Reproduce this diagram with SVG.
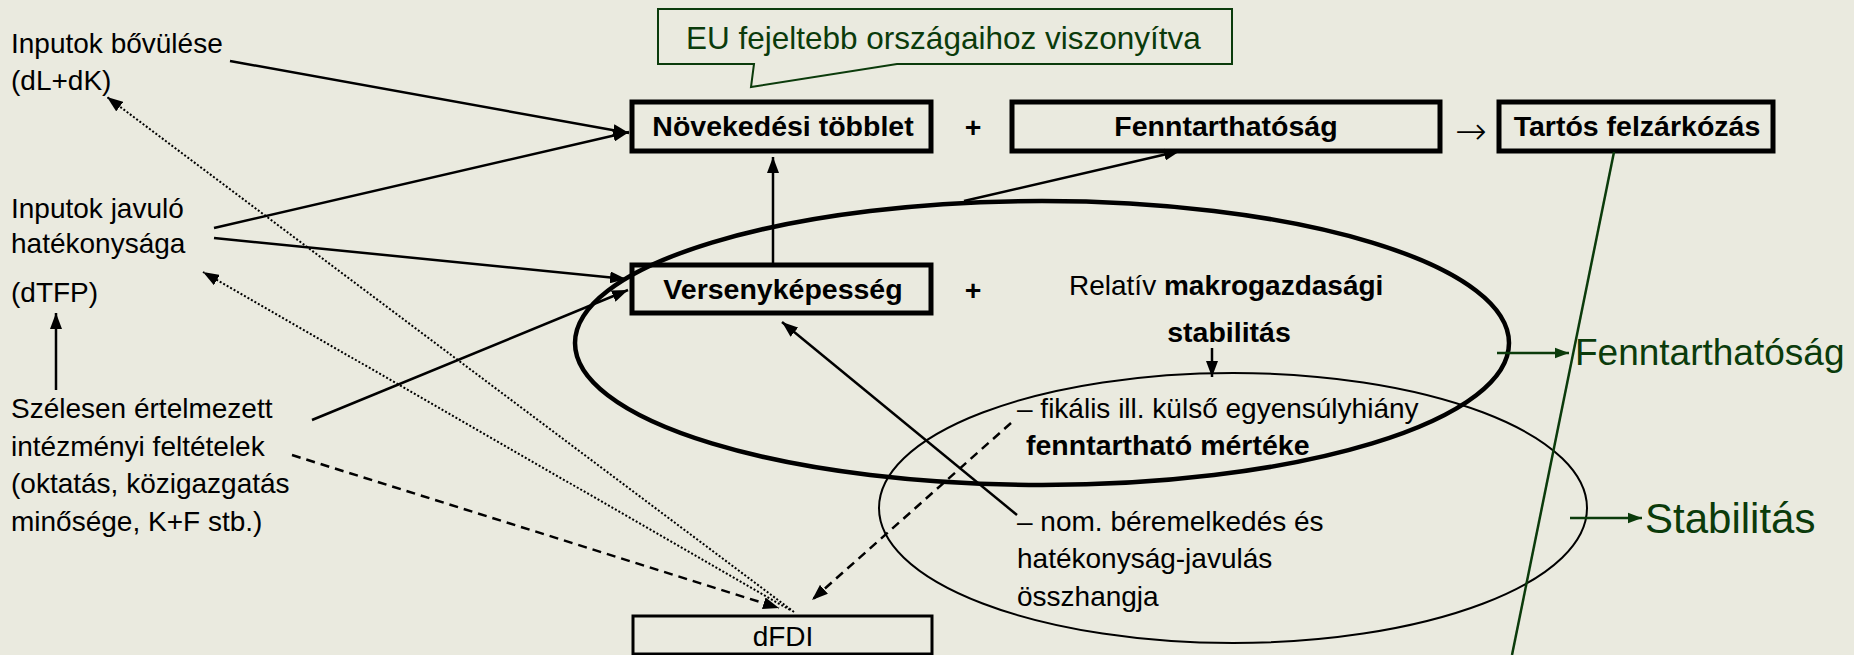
<svg xmlns="http://www.w3.org/2000/svg" width="1854" height="655" viewBox="0 0 1854 655">
<defs>
<style>
text{font-family:"Liberation Sans",Arial,sans-serif;fill:#000}
.t{font-size:28px}
.b{font-size:28.5px;font-weight:bold}
.g{fill:#0b3b0b}
.box{fill:none;stroke:#000;stroke-width:5}
.ln{fill:none;stroke:#000;stroke-width:2.5}
.dot{fill:none;stroke:#000;stroke-width:2;stroke-dasharray:2 2}
.dash{fill:none;stroke:#000;stroke-width:2.5;stroke-dasharray:9 6}
.gl{fill:none;stroke:#0b3b0b;stroke-width:2.5}
</style>
<marker id="ah" viewBox="0 0 16 12" refX="16" refY="6" markerWidth="16" markerHeight="12" markerUnits="userSpaceOnUse" orient="auto"><path d="M0,0L16,6L0,12z" fill="#000"/></marker>
<marker id="ahg" viewBox="0 0 16 12" refX="16" refY="6" markerWidth="14" markerHeight="12" markerUnits="userSpaceOnUse" orient="auto"><path d="M0,0L16,6L0,12z" fill="#0b3b0b"/></marker>
</defs>
<rect width="1854" height="655" fill="#eaeadf"/>

<g id="ellipses">
<ellipse cx="1042" cy="343" rx="467" ry="142" fill="none" stroke="#000" stroke-width="4.5"/>
<ellipse cx="1233" cy="508" rx="354" ry="135" fill="none" stroke="#000" stroke-width="2"/>
</g>

<g id="callout">
<path d="M658,9H1232V64H897L751,87L754,64H658Z" fill="#eaeadf" stroke="#0b3b0b" stroke-width="2"/>
<text class="g" x="686" y="49" font-size="31.5">EU fejeltebb országaihoz viszonyítva</text>
</g>

<g id="n-inputok-bovulese">
<text class="t" x="11" y="53">Inputok bővülése</text>
<text class="t" x="11" y="90">(dL+dK)</text>
</g>
<g id="n-inputok-javulo">
<text class="t" x="11" y="218">Inputok javuló</text>
<text class="t" x="11" y="253">hatékonysága</text>
<text class="t" x="11" y="302">(dTFP)</text>
</g>
<g id="n-szelesen">
<text class="t" x="11" y="418">Szélesen értelmezett</text>
<text class="t" x="11" y="456">intézményi feltételek</text>
<text class="t" x="11" y="493">(oktatás, közigazgatás</text>
<text class="t" x="11" y="531">minősége, K+F stb.)</text>
</g>

<g id="n-novekedesi">
<rect class="box" x="632" y="102" width="299" height="49"/>
<text class="b" x="783" y="136" text-anchor="middle">Növekedési többlet</text>
</g>
<text class="b" x="973" y="137" text-anchor="middle">+</text>
<g id="n-fenntarthatosag">
<rect class="box" x="1012" y="102" width="428" height="49"/>
<text class="b" x="1226" y="136" text-anchor="middle">Fenntarthatóság</text>
</g>
<text x="1471" y="144" text-anchor="middle" font-size="38" font-weight="200" style="font-family:'DejaVu Sans',sans-serif">→</text>
<g id="n-tartos">
<rect class="box" x="1499" y="102" width="274" height="49"/>
<text class="b" x="1637" y="136" text-anchor="middle">Tartós felzárkózás</text>
</g>

<g id="n-versenykepesseg">
<rect class="box" x="632" y="265" width="299" height="48"/>
<text class="b" x="783" y="299" text-anchor="middle">Versenyképesség</text>
</g>
<text class="b" x="973" y="300" text-anchor="middle">+</text>
<g id="n-relativ">
<text class="t" x="1069" y="295">Relatív <tspan font-weight="bold">makrogazdasági</tspan></text>
<text class="b" x="1229" y="342" text-anchor="middle">stabilitás</text>
</g>
<g id="n-fiskalis">
<text class="t" x="1017" y="418">– fikális ill. külső egyensúlyhiány</text>
<text class="b" x="1026" y="455">fenntartható mértéke</text>
</g>
<g id="n-nom">
<text class="t" x="1017" y="531">– nom. béremelkedés és</text>
<text class="t" x="1017" y="568">hatékonyság-javulás</text>
<text class="t" x="1017" y="606">összhangja</text>
</g>
<g id="n-dfdi">
<rect x="633" y="616" width="299" height="38" fill="none" stroke="#000" stroke-width="3"/>
<text class="t" x="783" y="646" text-anchor="middle">dFDI</text>
</g>
<g id="n-green-labels">
<text class="g" x="1575" y="365" font-size="37">Fenntarthatóság</text>
<text class="g" x="1645" y="533" font-size="42">Stabilitás</text>
</g>

<g id="connectors">
<line class="ln" x1="230" y1="61" x2="629" y2="133" marker-end="url(#ah)"/>
<line class="ln" x1="214" y1="228" x2="629" y2="132" marker-end="url(#ah)"/>
<line class="ln" x1="214" y1="238" x2="626" y2="279" marker-end="url(#ah)"/>
<line class="ln" x1="312" y1="420" x2="628" y2="290" marker-end="url(#ah)"/>
<line class="ln" x1="56" y1="390" x2="56" y2="313" marker-end="url(#ah)"/>
<line class="ln" x1="773" y1="263" x2="773" y2="157" marker-end="url(#ah)"/>
<line class="ln" x1="964" y1="201" x2="1180" y2="151" marker-end="url(#ah)"/>
<line class="ln" x1="1017" y1="515" x2="782" y2="322" marker-end="url(#ah)"/>
<line class="ln" x1="1212" y1="348" x2="1212" y2="377" marker-end="url(#ah)"/>
<line class="dot" x1="794" y1="612" x2="107" y2="97" marker-end="url(#ah)"/>
<line class="dot" x1="790" y1="610" x2="203" y2="272" marker-end="url(#ah)"/>
<line class="dash" x1="292" y1="455" x2="779" y2="608" marker-end="url(#ah)"/>
<line class="dash" x1="1011" y1="423" x2="812" y2="600" marker-end="url(#ah)"/>
<line class="gl" x1="1614" y1="152" x2="1512" y2="655"/>
<line class="gl" x1="1497" y1="353" x2="1569" y2="353" marker-end="url(#ahg)"/>
<line class="gl" x1="1570" y1="518" x2="1642" y2="518" marker-end="url(#ahg)"/>
</g>
</svg>
